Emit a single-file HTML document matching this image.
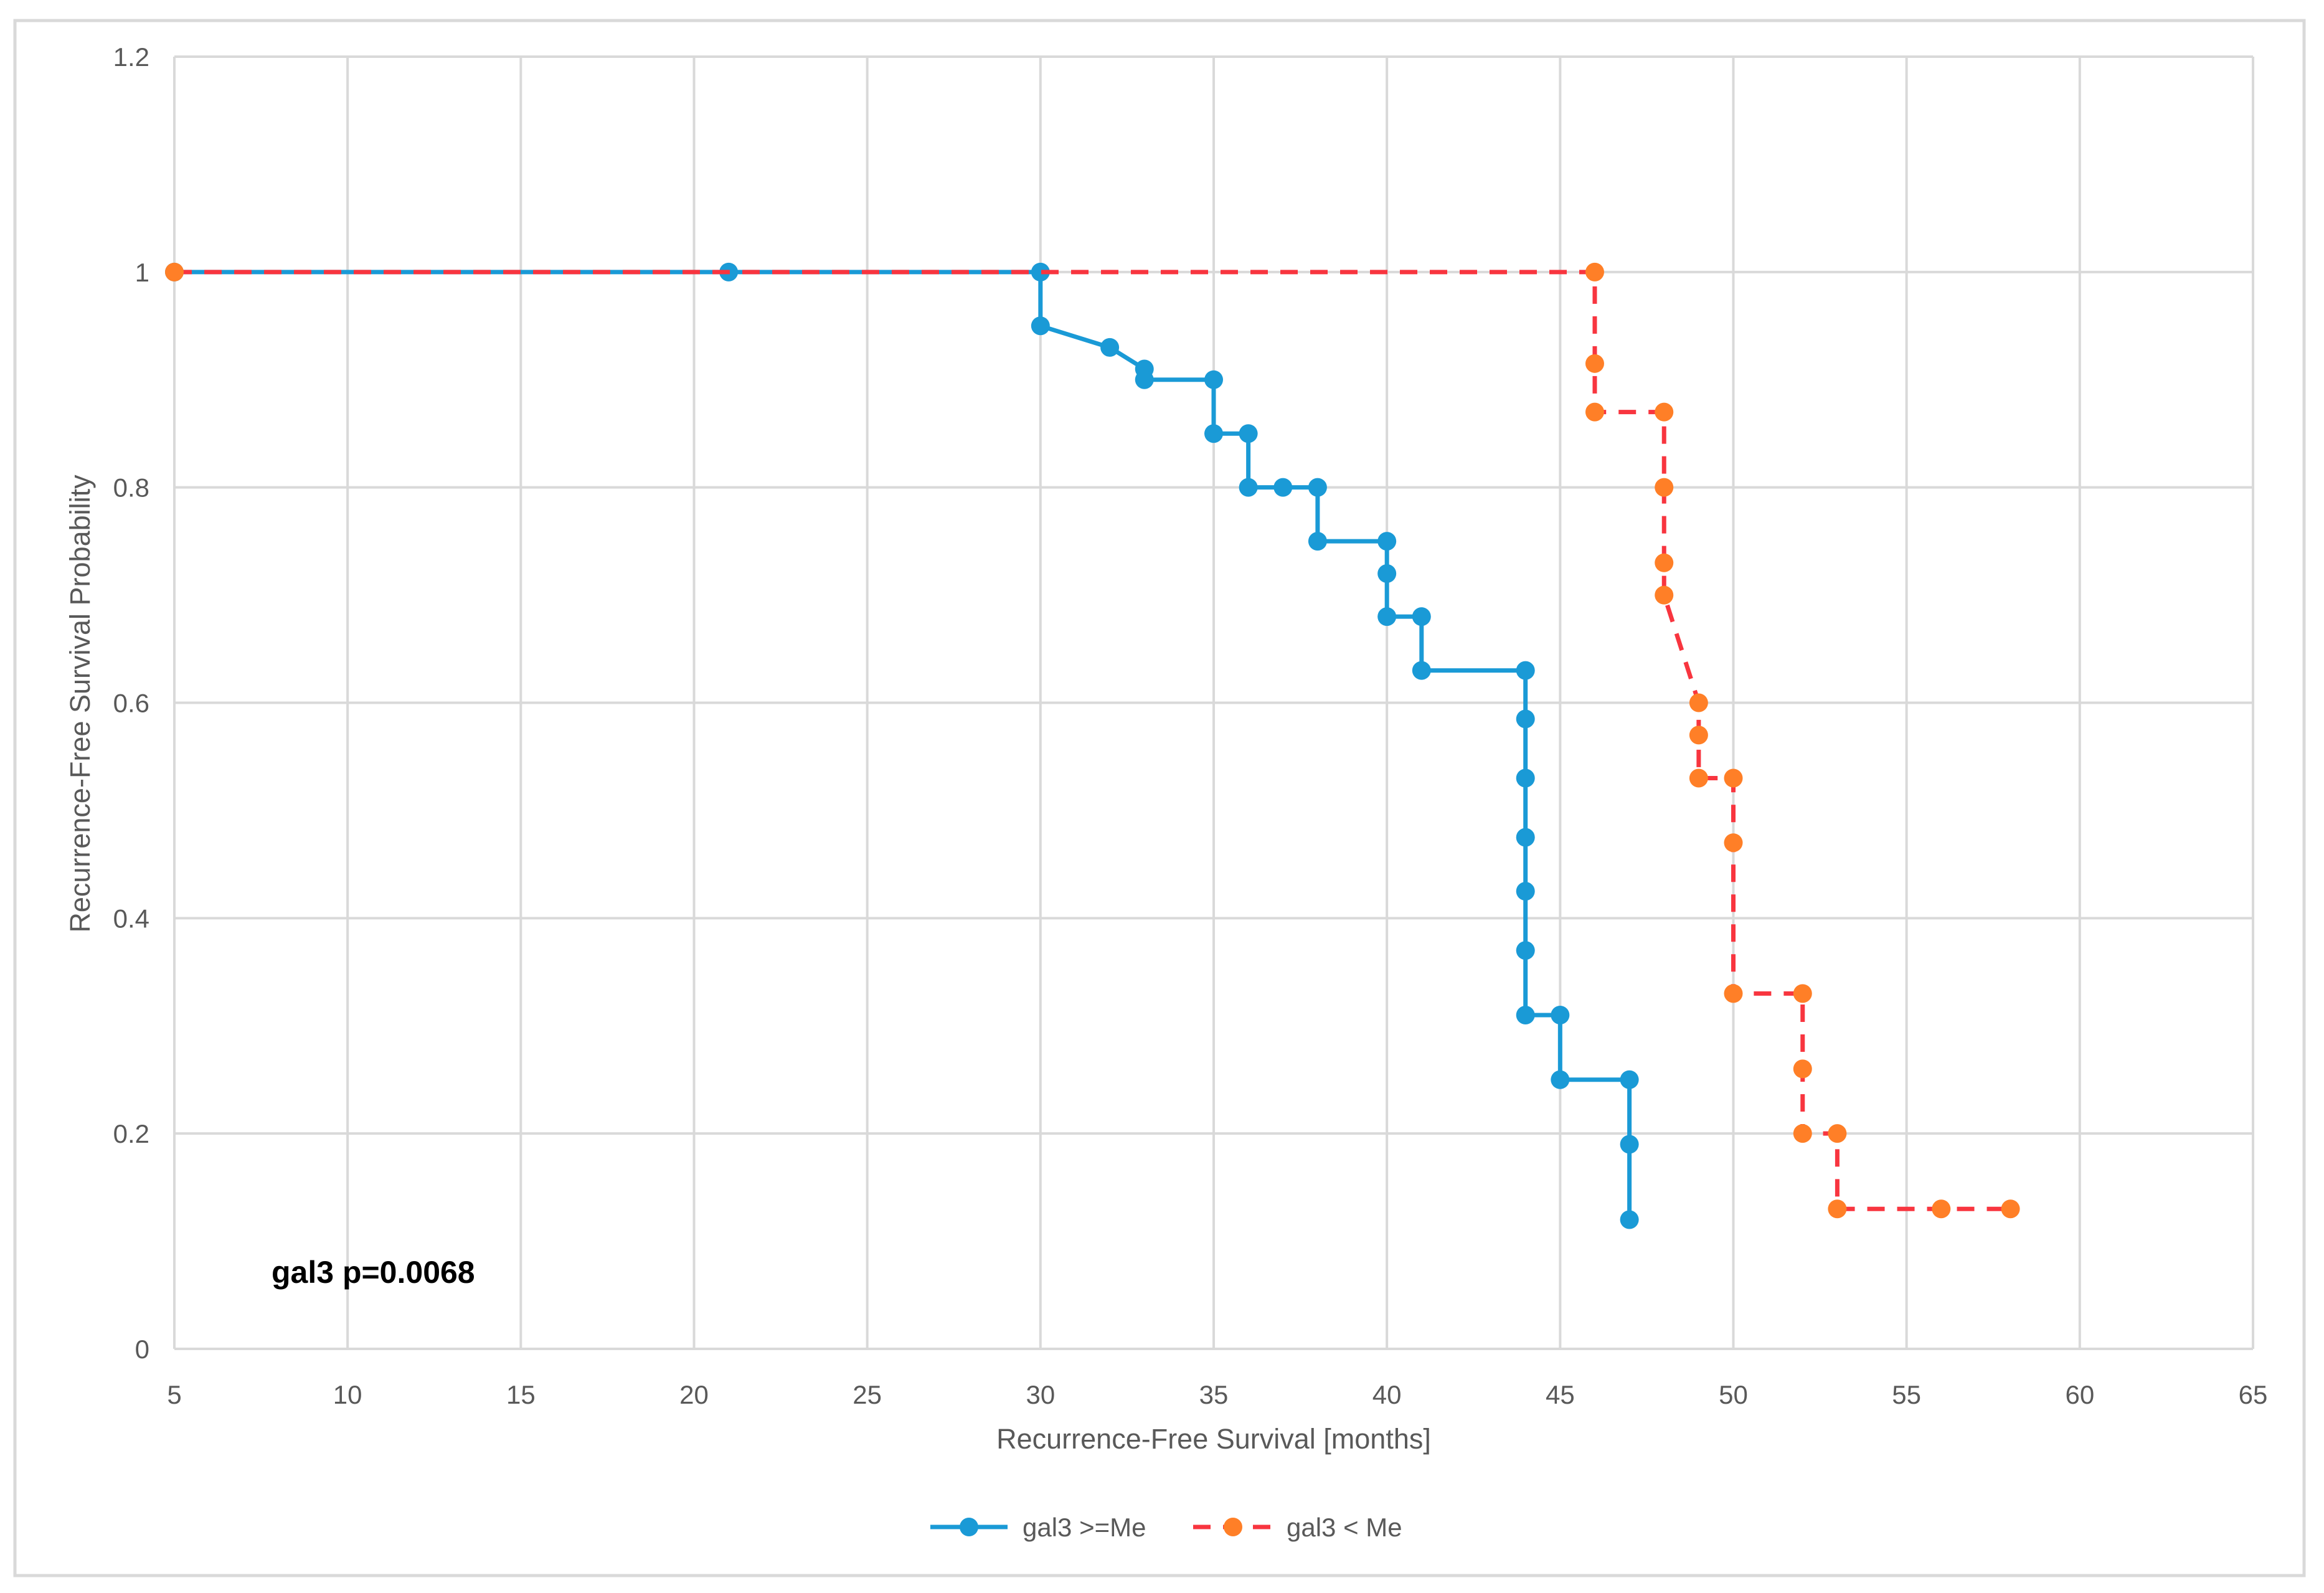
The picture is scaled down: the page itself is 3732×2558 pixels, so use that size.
<!DOCTYPE html>
<html><head><meta charset="utf-8">
<style>
html,body{margin:0;padding:0;background:#fff;}
svg{display:block;}
text{font-family:"Liberation Sans",sans-serif;}
</style></head>
<body>
<svg id="chart" width="3732" height="2558" viewBox="0 0 3732 2558" xmlns="http://www.w3.org/2000/svg">
<rect x="0" y="0" width="3732" height="2558" fill="#fff"/>
<rect x="24" y="33" width="3676" height="2497" fill="#fff" stroke="#d9d9d9" stroke-width="5"/>
<g id="grid"></g>
<g id="ticks"></g>
<g id="series"></g>
<text x="1949" y="2326" font-size="45" fill="#595959" text-anchor="middle">Recurrence-Free Survival [months]</text>
<text x="0" y="0" font-size="45" fill="#595959" text-anchor="middle" transform="translate(144,1130) rotate(-90)">Recurrence-Free Survival Probability</text>
<text x="436" y="2060" font-size="50" font-weight="bold" fill="#000">gal3 p=0.0068</text>
<g>
  <g>
    <line x1="1494" y1="2452" x2="1618" y2="2452" stroke="#1a9ad6" stroke-width="7"/>
    <circle cx="1556" cy="2452" r="15" fill="#1a9ad6"/>
    <text x="1642" y="2467" font-size="42" fill="#595959">gal3 &gt;=Me</text>
  </g>
  <g>
    <line x1="1916" y1="2452" x2="2042" y2="2452" stroke="#f8353f" stroke-width="7" stroke-dasharray="28,20"/>
    <circle cx="1980" cy="2452" r="15" fill="#ff7f27"/>
    <text x="2066" y="2467" font-size="42" fill="#595959">gal3 &lt; Me</text>
  </g>
</g>
</svg>
<script>
const xTicks = [5,10,15,20,25,30,35,40,45,50,55,60,65];
const yTicks = [0,0.2,0.4,0.6,0.8,1,1.2];
const yTickLabels = ["0","0.2","0.4","0.6","0.8","1","1.2"];
const highX = [5,21,30,30,32,33,33,35,35,36,36,37,38,38,40,40,40,41,41,44,44,44,44,44,44,44,45,45,47,47,47];
const highY = [1,1,1,0.95,0.93,0.91,0.90,0.90,0.85,0.85,0.80,0.80,0.80,0.75,0.75,0.72,0.68,0.68,0.63,0.63,0.585,0.53,0.475,0.425,0.37,0.31,0.31,0.25,0.25,0.19,0.12];
const lowX = [5,46,46,46,48,48,48,48,49,49,49,50,50,50,52,52,52,53,53,56,58];
const lowY = [1,1,0.915,0.87,0.87,0.80,0.73,0.70,0.60,0.57,0.53,0.53,0.47,0.33,0.33,0.26,0.20,0.20,0.13,0.13,0.13];

const X0=280, X1=3618, Y0=2166, Y1=91;
function sx(v){return X0+(v-5)/(65-5)*(X1-X0);}
function sy(v){return Y0-(v/1.2)*(Y0-Y1);}
const NS="http://www.w3.org/2000/svg";
function mk(tag,attrs,parent){const e=document.createElementNS(NS,tag);for(const k in attrs)e.setAttribute(k,attrs[k]);parent.appendChild(e);return e;}
const grid=document.getElementById('grid'), ticks=document.getElementById('ticks'), series=document.getElementById('series');
xTicks.forEach(t=>{
  const l=mk('line',{x1:sx(t),x2:sx(t),y1:Y1,y2:Y0,stroke:'#d9d9d9','stroke-width':4},grid);
  
  
  const tx=mk('text',{x:sx(t),y:2254,'font-size':42,fill:'#595959','text-anchor':'middle'},ticks);
  tx.textContent=String(t);
  
  
});
yTicks.forEach((t,i)=>{
  const l=mk('line',{x1:X0,x2:X1,y1:sy(t),y2:sy(t),stroke:'#d9d9d9','stroke-width':4},grid);
  
  
  const tx=mk('text',{x:240,y:sy(t)+15,'font-size':42,fill:'#595959','text-anchor':'end'},ticks);
  tx.textContent=yTickLabels[i];
  
  
});
function drawSeries(xs,ys,lineColor,markerColor,dash,name){
  const g=mk('g',{},series);
  
  
  const pts=xs.map((x,i)=>sx(x)+','+sy(ys[i])).join(' ');
  const pl=mk('polyline',{points:pts,fill:'none',stroke:lineColor,'stroke-width':7,'stroke-linejoin':'round'},g);
  if(dash)pl.setAttribute('stroke-dasharray',dash);
  
  
  xs.forEach((x,i)=>{
    const c=mk('circle',{cx:sx(x),cy:sy(ys[i]),r:15,fill:markerColor},g);
    
    
  });
}
drawSeries(highX,highY,'#1a9ad6','#1a9ad6',null,'series-high');
drawSeries(lowX,lowY,'#f8353f','#ff7f27','28,20','series-low');
</script>
</body></html>
